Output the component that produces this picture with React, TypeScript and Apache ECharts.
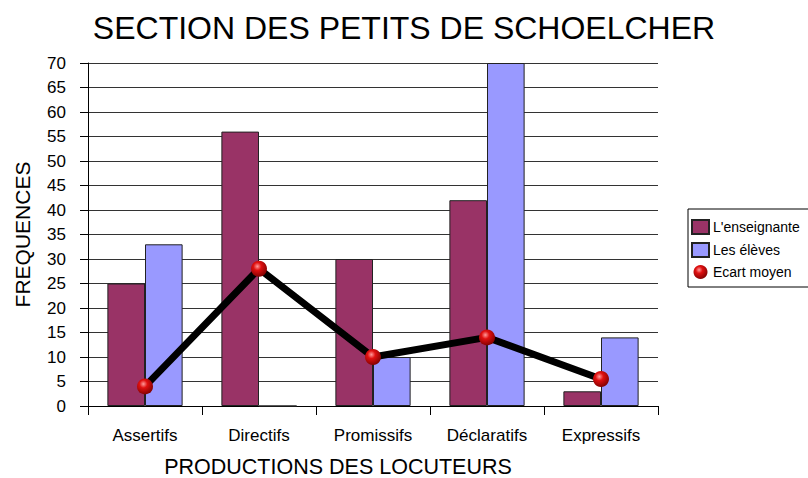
import React, { useEffect, useRef } from "react";
import * as echarts from "echarts";

const categories = ["Assertifs", "Directifs", "Promissifs", "Déclaratifs", "Expressifs"];
const enseignante = [25, 56, 30, 42, 3];
const eleves = [33, 0, 10, 70, 14];
const ecartMoyen = [4, 28, 10, 14, 5.5];

const FONT = "'Liberation Sans', Arial, sans-serif";

export default function App() {
  const ref = useRef<HTMLDivElement>(null);
  useEffect(() => {
    document.body.style.margin = "0";
    const chart = echarts.init(ref.current!, null, { renderer: "svg" });
    const sphere = new echarts.graphic.RadialGradient(0.4, 0.35, 0.7, [
      { offset: 0, color: "#ff9a9a" },
      { offset: 0.35, color: "#e01010" },
      { offset: 1, color: "#7a0000" },
    ]);
    chart.setOption({
      animation: false,
      backgroundColor: "#fff",
      textStyle: { fontFamily: FONT, color: "#000" },
      title: {
        text: "SECTION DES PETITS DE SCHOELCHER",
        left: "center",
        top: 7,
        textStyle: { fontFamily: FONT, fontSize: 32, fontWeight: "normal", color: "#000" },
      },
      legend: {
        orient: "vertical",
        left: 688,
        top: 209,
        borderColor: "#000",
        borderWidth: 1,
        padding: [10, 12, 8, 3],
        itemGap: 7,
        itemWidth: 17,
        itemHeight: 14,
        textStyle: { fontFamily: FONT, fontSize: 14, color: "#000", padding: [0, 0, 0, -1] },
        data: [
          { name: "L'enseignante", icon: "rect" },
          { name: "Les élèves", icon: "rect" },
          { name: "Ecart moyen", icon: "circle" },
        ],
      },
      grid: { left: 88, right: 150, top: 63, bottom: 72, containLabel: false, outerBoundsMode: "none" },
      xAxis: {
        type: "category",
        data: categories,
        boundaryGap: true,
        axisLine: { lineStyle: { color: "#000", width: 1 } },
        axisTick: { show: true, length: 9, lineStyle: { color: "#000" } },
        axisLabel: { fontFamily: FONT, fontSize: 17, color: "#000", margin: 21 },
        name: "PRODUCTIONS DES LOCUTEURS",
        nameLocation: "middle",
        nameGap: 50,
        nameTextStyle: { fontFamily: FONT, fontSize: 21.5, color: "#000", padding: [0, 70, 0, 0] },
      },
      yAxis: {
        type: "value",
        min: 0,
        max: 70,
        interval: 5,
        axisLine: { show: true, lineStyle: { color: "#000", width: 1 } },
        axisTick: { show: true, length: 8, lineStyle: { color: "#000" } },
        axisLabel: { fontFamily: FONT, fontSize: 17, color: "#000", margin: 22 },
        splitLine: { show: true, lineStyle: { color: "#333", width: 1 } },
        name: "FREQUENCES",
        nameLocation: "middle",
        nameGap: 55,
        nameRotate: 90,
        nameTextStyle: { fontFamily: FONT, fontSize: 21, color: "#000" },
      },
      series: [
        {
          name: "L'enseignante",
          type: "bar",
          data: enseignante,
          barGap: "0%",
          barCategoryGap: "34%",
          itemStyle: { color: "#993366", borderColor: "#222", borderWidth: 1 },
        },
        {
          name: "Les élèves",
          type: "bar",
          data: eleves,
          itemStyle: { color: "#9999ff", borderColor: "#222", borderWidth: 1 },
        },
        {
          name: "Ecart moyen",
          type: "line",
          data: ecartMoyen,
          z: 5,
          symbol: "circle",
          symbolSize: 16,
          lineStyle: { color: "#000", width: 7 },
          itemStyle: { color: sphere, borderWidth: 0 },
        },
      ],
    });
    return () => chart.dispose();
  }, []);
  return <div ref={ref} style={{ width: 808, height: 478 }} />;
}
